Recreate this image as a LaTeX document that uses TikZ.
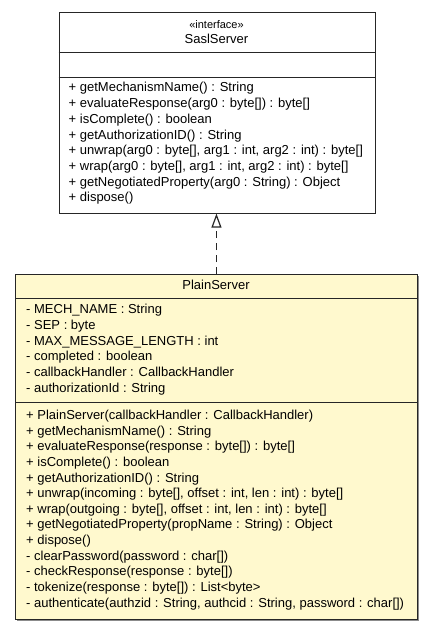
\documentclass[tikz,border=0pt]{standalone}
\usepackage{fontspec}
\setmainfont{Liberation Sans}
\usetikzlibrary{arrows.meta,shadows}
\definecolor{classyellow}{RGB}{255,249,206}
\tikzset{
	umlbox/.style={draw=black!85, line width=0.9bp, anchor=north west, inner sep=0pt, drop shadow={shadow xshift=1.2bp, shadow yshift=-1.2bp, fill=black!45, opacity=1}},
	member/.style={anchor=west, inner sep=0pt, text height=9.5bp, text depth=2.5bp, font=\fontsize{13bp}{15bp}\selectfont},
	title/.style={member, anchor=center},
	realize/.style={line width=1.2bp, draw=black!85, dash pattern=on 7bp off 5bp, -{Triangle[open, length=14bp, width=10bp]}}
}

\begin{document}
\begin{tikzpicture}[x=1bp, y=-1bp]
			%%%%% START %%%%%
			\useasboundingbox[fill=white] (0, 0) rectangle (432, 629);
			
			% interface
			\node[umlbox, fill=white, minimum width=316bp, minimum height=200.2bp] (sasl) at (58.5, 12.5) {};
			\draw[black!85, line width=0.9bp] (sasl.west |- 0, 52.5) -- (sasl.east |- 0, 52.5);
			\draw[black!85, line width=0.9bp] (sasl.west |- 0, 77.3) -- (sasl.east |- 0, 77.3);
			\node[title, font=\fontsize{11bp}{13bp}\selectfont] (saslstereo) at (216.5, 25) {«interface»};
			\node[title] (saslname) at (216.5, 40.5) {SaslServer};
			
			\node[member] (saslm1) at (68.5, 88.5) {+ getMechanismName() : String};
			\node[member] (saslm2) at (68.5, 104.2) {+ evaluateResponse(arg0 : byte[]) : byte[]};
			\node[member] (saslm3) at (68.5, 119.9) {+ isComplete() : boolean};
			\node[member] (saslm4) at (68.5, 135.6) {+ getAuthorizationID() : String};
			\node[member] (saslm5) at (68.5, 151.3) {+ unwrap(arg0 : byte[], arg1 : int, arg2 : int) : byte[]};
			\node[member] (saslm6) at (68.5, 167) {+ wrap(arg0 : byte[], arg1 : int, arg2 : int) : byte[]};
			\node[member] (saslm7) at (68.5, 182.7) {+ getNegotiatedProperty(arg0 : String) : Object};
			\node[member] (saslm8) at (68.5, 198.4) {+ dispose()};
			
			% class
			\node[umlbox, fill=classyellow, minimum width=402bp, minimum height=345.3bp] (plain) at (15, 274) {};
			\draw[black!85, line width=0.9bp] (plain.west |- 0, 298.5) -- (plain.east |- 0, 298.5);
			\draw[black!85, line width=0.9bp] (plain.west |- 0, 402.5) -- (plain.east |- 0, 402.5);
			\node[title] (plainname) at (216, 286.2) {PlainServer};
			
			\node[member] (plaina1) at (26, 310) {- MECH\_NAME : String};
			\node[member] (plaina2) at (26, 325.8) {- SEP : byte};
			\node[member] (plaina3) at (26, 341.6) {- MAX\_MESSAGE\_LENGTH : int};
			\node[member] (plaina4) at (26, 357.4) {- completed : boolean};
			\node[member] (plaina5) at (26, 373.2) {- callbackHandler : CallbackHandler};
			\node[member] (plaina6) at (26, 389) {- authorizationId : String};
			
			\node[member] (plainm1) at (26, 416) {+ PlainServer(callbackHandler : CallbackHandler)};
			\node[member] (plainm2) at (26, 431.6) {+ getMechanismName() : String};
			\node[member] (plainm3) at (26, 447.3) {+ evaluateResponse(response : byte[]) : byte[]};
			\node[member] (plainm4) at (26, 462.9) {+ isComplete() : boolean};
			\node[member] (plainm5) at (26, 478.5) {+ getAuthorizationID() : String};
			\node[member] (plainm6) at (26, 494.2) {+ unwrap(incoming : byte[], offset : int, len : int) : byte[]};
			\node[member] (plainm7) at (26, 509.8) {+ wrap(outgoing : byte[], offset : int, len : int) : byte[]};
			\node[member] (plainm8) at (26, 525.4) {+ getNegotiatedProperty(propName : String) : Object};
			\node[member] (plainm9) at (26, 541) {+ dispose()};
			\node[member] (plainm10) at (26, 556.7) {- clearPassword(password : char[])};
			\node[member] (plainm11) at (26, 572.3) {- checkResponse(response : byte[])};
			\node[member] (plainm12) at (26, 587.9) {- tokenize(response : byte[]) : List<byte>};
			\node[member] (plainm13) at (26, 603.5) {- authenticate(authzid : String, authcid : String, password : char[])};
			
			% realization
			\draw[realize] (plain.north) -- (plain.north |- sasl.south);
			%%%%% END %%%%%
\end{tikzpicture}
\end{document}
